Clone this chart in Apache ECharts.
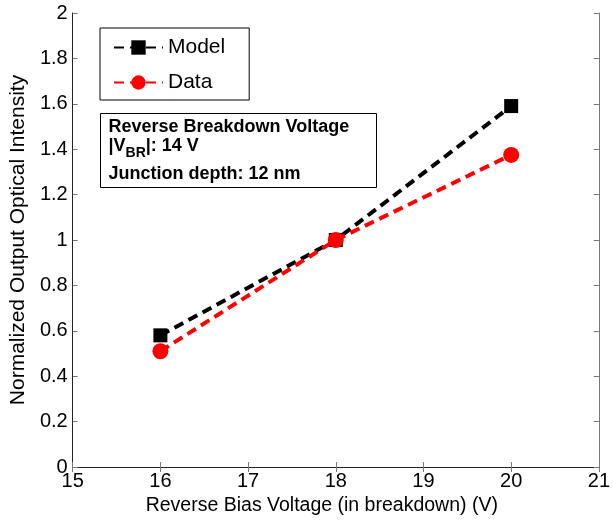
<!DOCTYPE html>
<html><head><meta charset="utf-8">
<script src="https://cdn.jsdelivr.net/npm/echarts@6/dist/echarts.min.js"></script>
<style>html,body{margin:0;padding:0;background:#fff}#c{width:613px;height:523px}</style>
</head><body><div id="c"></div>
<script>
const voltages = [16, 18, 20];
const modelValues = [0.58, 1.0, 1.59];
const dataValues = [0.51, 1.0, 1.375];
const xTicks = [15, 16, 17, 18, 19, 20, 21];
const yTicks = [0, 0.2, 0.4, 0.6, 0.8, 1, 1.2, 1.4, 1.6, 1.8, 2];

const font = 'Liberation Sans, Arial, sans-serif';
const chart = echarts.init(document.getElementById('c'));
function baseAxis(color) {
  return {
    axisLine: {show: true, lineStyle: {color: color, width: 1}},
    axisTick: {show: true, inside: true, length: 5, lineStyle: {color: '#777'}},
    splitLine: {show: false}
  };
}
const cv = document.createElement('canvas').getContext('2d');
function tw(t, size) { cv.font = 'bold ' + size + 'px ' + font; return cv.measureText(t).width; }
const bSize = 18, sSize = 14;
const w1 = tw('|V', bSize), w2 = tw('BR', sSize);

chart.setOption({
  animation: false,
  backgroundColor: '#fff',
  grid: {left: 69, right: 10, top: 13, bottom: 56},
  legend: {
    left: 100, top: 28, orient: 'vertical',
    padding: [9, 24, 7, 13],
    borderColor: '#000', borderWidth: 1, borderRadius: 0,
    itemWidth: 49, itemHeight: 18, itemGap: 14,
    textStyle: {fontFamily: font, fontSize: 21, color: '#000', lineHeight: 20},
    data: ['Model', 'Data']
  },
  xAxis: [
    Object.assign(baseAxis('#777'), {
      type: 'value', min: 15, max: 21, interval: 1,
      name: 'Reverse Bias Voltage (in breakdown) (V)', nameLocation: 'middle', nameGap: 28,
      nameTextStyle: {fontFamily: font, fontSize: 19.5, color: '#000', padding: [0, 28, 0, 0]},
      axisLabel: {fontFamily: font, fontSize: 20, color: '#000', margin: 4,
        formatter: v => xTicks.includes(v) ? String(v) : ''}
    }),
    Object.assign(baseAxis('#222'), {
      type: 'value', min: 15, max: 21, interval: 1, position: 'top', axisLabel: {show: false}
    })
  ],
  yAxis: [
    Object.assign(baseAxis('#222'), {
      type: 'value', min: 0, max: 2, interval: 0.2,
      name: 'Normalized Output Optical Intensity', nameLocation: 'middle', nameGap: 40,
      nameTextStyle: {fontFamily: font, fontSize: 21, color: '#000'},
      axisLabel: {fontFamily: font, fontSize: 20, color: '#000', margin: 5,
        formatter: v => { const t = yTicks.find(y => Math.abs(y - v) < 1e-6); return t === undefined ? '' : String(t); }}
    }),
    Object.assign(baseAxis('#777'), {
      type: 'value', min: 0, max: 2, interval: 0.2, position: 'right', axisLabel: {show: false}
    })
  ],
  series: [
    {
      name: 'Model', type: 'line', data: voltages.map((v, i) => [v, modelValues[i]]),
      symbol: 'rect', symbolSize: 14,
      lineStyle: {color: '#000', width: 4, type: [10, 6]},
      itemStyle: {color: '#000'}, z: 3
    },
    {
      name: 'Data', type: 'line', data: voltages.map((v, i) => [v, dataValues[i]]),
      symbol: 'circle', symbolSize: 16,
      lineStyle: {color: '#ff0000', width: 4, type: [10, 6]},
      itemStyle: {color: '#ff0000'}, z: 4
    }
  ],
  graphic: [{
    type: 'group', left: 100, top: 113,
    children: [
      {type: 'rect', shape: {x: 0, y: 0, width: 276, height: 74},
        style: {fill: '#fff', stroke: '#000', lineWidth: 1}},
      {type: 'text', x: 8, y: 14, style: {text: 'Reverse Breakdown Voltage',
        font: 'bold ' + bSize + 'px ' + font, fill: '#000', verticalAlign: 'middle'}},
      {type: 'text', x: 8, y: 33, style: {text: '|V',
        font: 'bold ' + bSize + 'px ' + font, fill: '#000', verticalAlign: 'middle'}},
      {type: 'text', x: 8 + w1, y: 40, style: {text: 'BR',
        font: 'bold ' + sSize + 'px ' + font, fill: '#000', verticalAlign: 'middle'}},
      {type: 'text', x: 8 + w1 + w2, y: 33, style: {text: '|: 14 V',
        font: 'bold ' + bSize + 'px ' + font, fill: '#000', verticalAlign: 'middle'}},
      {type: 'text', x: 8, y: 61, style: {text: 'Junction depth: 12 nm',
        font: 'bold ' + bSize + 'px ' + font, fill: '#000', verticalAlign: 'middle'}}
    ]
  }]
});
</script></body></html>
